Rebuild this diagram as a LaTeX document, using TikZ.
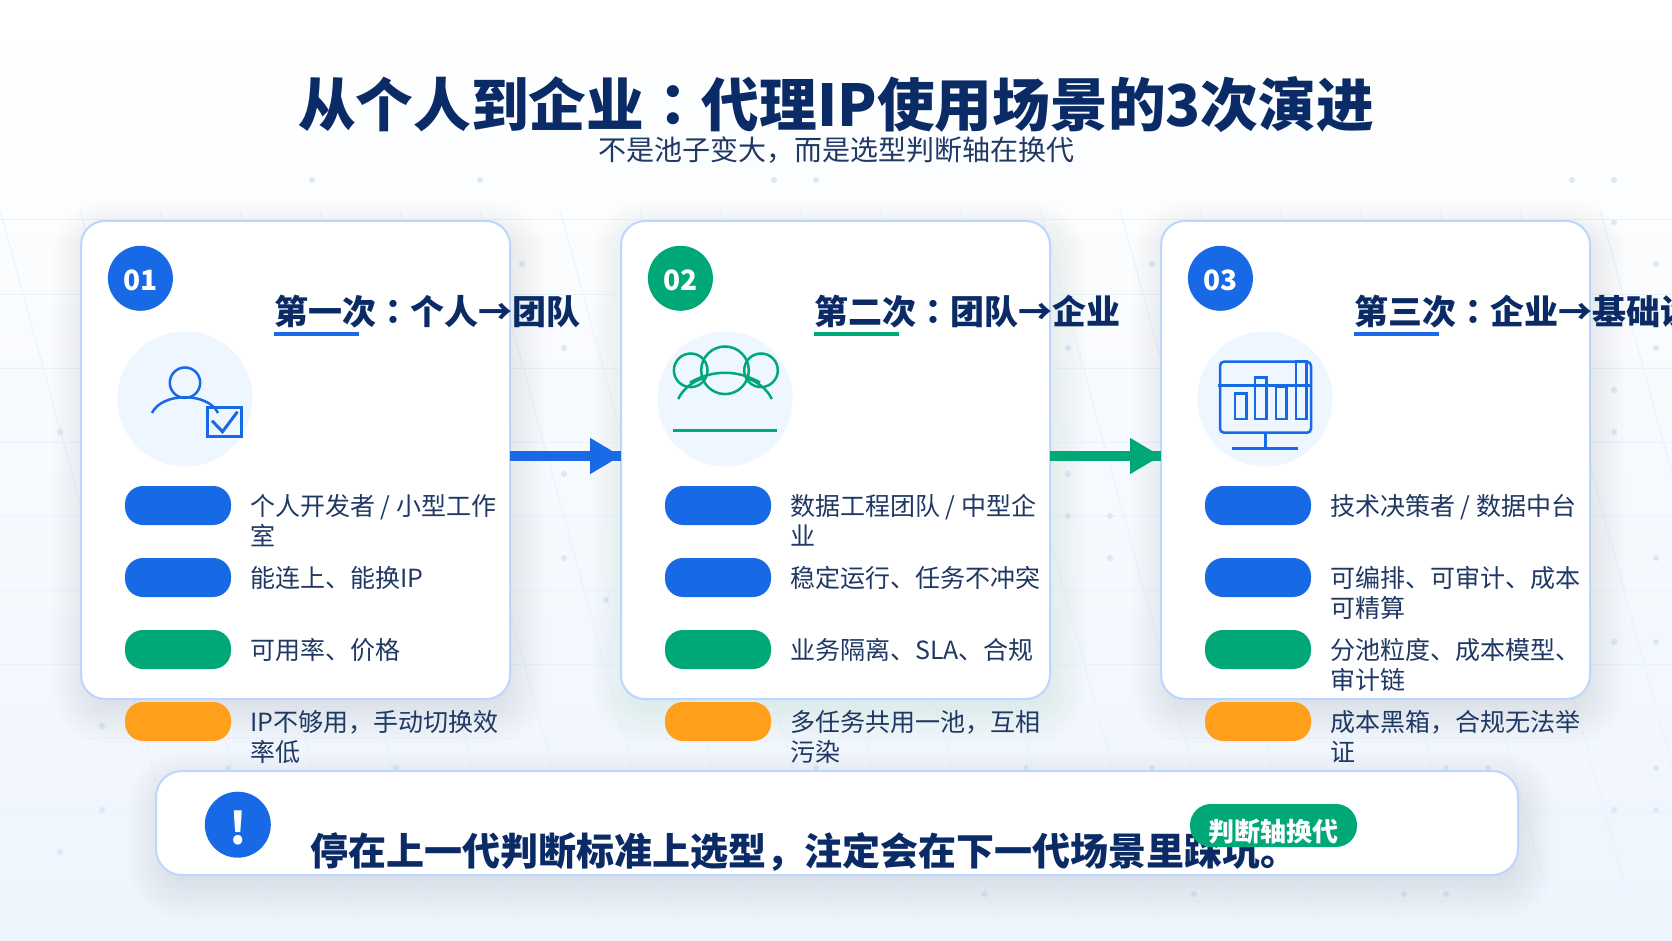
\documentclass[tikz,border=0pt]{standalone}
\usepackage{fontspec}
\setmainfont{Noto Sans CJK SC}
\newfontfamily\jpfont{Noto Sans CJK JP}
\usetikzlibrary{arrows.meta}

\definecolor{navy}{HTML}{0B2B66}
\definecolor{bodyink}{HTML}{1F3864}
\definecolor{accentblue}{HTML}{1869E6}
\definecolor{accentgreen}{HTML}{00A878}
\definecolor{accentorange}{HTML}{FF9F1C}
\definecolor{edgeblue}{HTML}{BBD6FF}
\definecolor{iconbg}{HTML}{EEF6FF}
\definecolor{pagebottom}{HTML}{EEF5FD}
\definecolor{gridline}{HTML}{EBF2FD}
\definecolor{dotblue}{HTML}{DCE7FA}

\tikzset{
  card/.style={draw=edgeblue, line width=2pt, fill=white, rounded corners=24pt, outer sep=0pt, inner sep=0pt},
  badge/.style={circle, minimum size=65pt, inner sep=0pt, text=white, font=\fontsize{28}{34}\selectfont\bfseries},
  pillbar/.style={rectangle, rounded corners=18pt, minimum width=106pt, minimum height=39pt, inner sep=0pt},
  headtext/.style={anchor=base west, inner sep=0pt, text=navy, font=\fontsize{34}{40}\selectfont\bfseries},
  listtext/.style={anchor=base west, inner sep=0pt, text=bodyink, font=\fontsize{25}{30}\selectfont},
  iconline/.style={line width=2.5pt, fill=none},
}

\newcommand{\softshadow}[5]{%
  \foreach \s in {-12,-8,...,32} {
    \fill[#5, opacity=0.007, rounded corners={(24+\s)*1pt}]
      (#1+4-\s,#2+12-\s) rectangle (#3+4+\s,#4+12+\s);
  }
}
\newcommand{\midcolon}{{\jpfont ：}}

\begin{document}
\begin{tikzpicture}[x=1pt,y=-1pt]
\useasboundingbox (0,0) rectangle (1672,941);
\clip (0,0) rectangle (1672,941);

%%%%%%%%%%
% Background
%%%%%%%%%%
\shade[top color=white, bottom color=pagebottom] (0,0) rectangle (1672,941);
\foreach \y in {220,294,...,886} {
  \draw[gridline, line width=1pt] (0,\y) -- (1672,\y);
}
\foreach \k in {0,...,20} {
  \draw[gridline, line width=1pt] (80*\k,210) -- (80*\k+200,941);
}
\foreach \x/\y in {
312/180, 480/180, 774/180, 816/180, 1572/180, 1614/180,
1614/222, 522/264, 1152/264, 1656/264,
564/348, 1068/348, 1656/348, 1614/390,
60/432, 1614/432, 564/474, 1068/474, 1068/516, 1110/516,
564/558, 1110/558, 1656/558, 606/600, 1614/642, 1656/642,
102/726, 228/768, 396/768, 816/768, 1026/768, 1152/768, 1446/768, 1488/768, 1656/768,
102/810, 1614/810, 1656/810, 60/852,
984/894, 1194/894, 1404/894, 1446/894
} {
  \fill[dotblue] (\x,\y) circle[radius=3];
}

% Title
\node[anchor=base, inner sep=0pt, text=navy, font=\fontsize{57.7}{66}\selectfont\bfseries] (title) at (836,127) {从个人到企业\midcolon 代理IP使用场景的3次演进};
\node[anchor=base, inner sep=0pt, text=bodyink, font=\fontsize{28}{34}\selectfont] (subtitle) at (836,161) {不是池子变大，而是选型判断轴在换代};

%%%%%%%%%%
% Cards
%%%%%%%%%%
\softshadow{81}{221}{510}{699}{navy}
\softshadow{621}{221}{1050}{699}{accentgreen!60!navy}
\softshadow{1161}{221}{1590}{699}{navy}
\softshadow{156}{771}{1518}{875}{navy}

\foreach \c/\dx/\col in {1/0/accentblue, 2/540/accentgreen, 3/1080/accentblue} {
  \node[card, minimum width=429pt, minimum height=478pt] (card\c) at (295.5+\dx,460) {};
  \fill[iconbg] (185+\dx,399) circle[radius=67.5];
  \node[badge, fill=\col] (badge\c) at (140.4+\dx,278.3) {\raisebox{-2pt}[\height][\depth]{0\c}};
  % pills
  \foreach \r/\y/\pillcol in {1/505.5/accentblue, 2/577.5/accentblue, 3/649.5/accentgreen, 4/721.5/accentorange} {
    \node[pillbar, fill=\pillcol] (pill\c\r) at (178+\dx,\y) {};
  }
}

% Card headings
\node[headtext] (head1) at (274,324) {第一次\midcolon 个人→团队};
\node[headtext] (head2) at (814,324) {第二次\midcolon 团队→企业};
\node[headtext] (head3) at (1354,324) {第三次\midcolon 企业→基础设施};
\fill[accentblue] (274,332) rectangle (359,336);
\fill[accentgreen] (814,332) rectangle (899,336);
\fill[accentblue] (1354,332) rectangle (1439,336);

% Row texts
\foreach \name/\x/\y/\lab in {
a1/250/515/{个人开发者 / 小型工作\\室},
a2/250/587/{能连上、能换IP},
a3/250/659/{可用率、价格},
a4/250/731/{IP不够用，手动切换效\\率低},
b1/790/515/{数据工程团队 / 中型企\\业},
b2/790/587/{稳定运行、任务不冲突},
b3/790/659/{业务隔离、SLA、合规},
b4/790/731/{多任务共用一池，互相\\污染},
c1/1330/515/{技术决策者 / 数据中台},
c2/1330/587/{可编排、可审计、成本\\可精算},
c3/1330/659/{分池粒度、成本模型、\\审计链},
c4/1330/731/{成本黑箱，合规无法举\\证}
} {
  \node[listtext] (\name) at (\x,\y) {\parbox[t]{300pt}{\lab}};
}

%%%%%%%%%%
% Icons
%%%%%%%%%%
% person with check box
\draw[iconline, accentblue] (185,382.7) circle[radius=15.2];
\draw[iconline, accentblue] (152,413) .. controls (162,392) and (208,392) .. (218,413);
\draw[accentblue, line width=3pt] (207,407) rectangle (241.5,436.5);
\draw[accentblue, line width=3pt] (212,420.7) -- (222.5,431.7) -- (237.5,411.7);

% team
\draw[iconline, accentgreen] (725,370.3) circle[radius=23.8];
\draw[iconline, accentgreen] (690.7,370.3) circle[radius=16.8];
\draw[iconline, accentgreen] (761,370.3) circle[radius=16.8];
\draw[iconline, accentgreen] (690,382.5) .. controls (713,369.5) and (737,369.5) .. (760,382.5);
\draw[iconline, accentgreen] (678.2,399) .. controls (683,389) and (693,381) .. (704,378);
\draw[iconline, accentgreen] (771.8,399) .. controls (767,389) and (757,381) .. (746,378);
\draw[accentgreen, line width=3pt] (673,430.3) -- (777,430.3);

% monitor
\draw[accentblue, line width=2.5pt, rounded corners=4pt] (1220,361.7) rectangle (1311,432.7);
\draw[accentblue, line width=2.5pt] (1218,385.3) -- (1311,385.3);
\foreach \xa/\xb/\ytop in {1235/1246.5/393.7, 1255/1266.5/377.7, 1276/1286.5/387, 1296/1306.5/361.7} {
  \draw[accentblue, line width=2.5pt] (\xa,\ytop) rectangle (\xb,419);
}
\draw[accentblue, line width=2.5pt] (1265.3,432.7) -- (1265.3,448.3);
\draw[accentblue, line width=2.5pt] (1232,448.3) -- (1297.7,448.3);

%%%%%%%%%%
% Flow arrows
%%%%%%%%%%
\foreach \a/\b/\col in {1/2/accentblue, 2/3/accentgreen} {
  \draw[\col, line width=10pt] ([yshift=4pt]card\a.east) -- ([yshift=4pt]card\b.west);
  \draw[\col, line width=10pt, -{Triangle[length=31pt,width=34pt]}] ([yshift=4pt]card\a.east) -- ([yshift=4pt]card\b.west);
}

%%%%%%%%%%
% Bottom note
%%%%%%%%%%
\node[card, rounded corners=26pt, minimum width=1362pt, minimum height=104pt] (note) at (837,823) {};
\node[circle, fill=accentblue, minimum size=66pt, inner sep=0pt, text=white, font=\fontsize{44}{50}\selectfont] (alert) at (237.8,824.7) {\raisebox{-3pt}[\height][\depth]{\textbf{!}}};
\node[anchor=base west, inner sep=0pt, text=navy, font=\fontsize{38}{44}\selectfont\bfseries] (notetext) at (310,865) {停在上一代判断标准上选型，注定会在下一代场景里踩坑。};
\node[rectangle, fill=accentgreen, rounded corners=21pt, minimum width=167pt, minimum height=43pt, inner sep=0pt] (tagpill) at (1273.5,825.5) {};
\node[anchor=base, inner sep=0pt, text=white, font=\fontsize{26}{30}\selectfont\bfseries] (tagtext) at (tagpill.center |- 0,841) {判断轴换代};

\end{tikzpicture}
\end{document}
